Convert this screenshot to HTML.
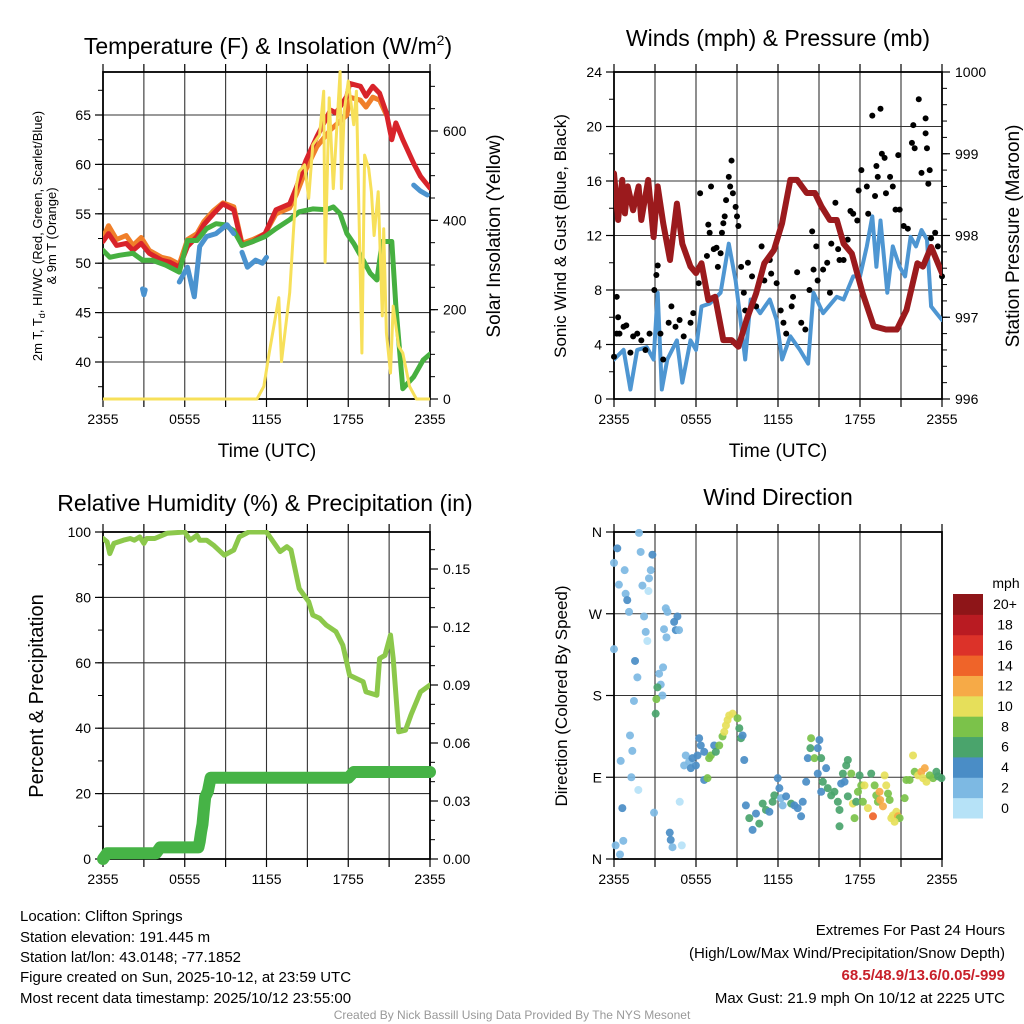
<!DOCTYPE html>
<html><head><meta charset="utf-8"><style>
body{margin:0;background:#fff;}
svg{display:block;font-family:"Liberation Sans",Arial,sans-serif;}
</style></head><body>
<svg id="fig" width="1024" height="1024" viewBox="0 0 1024 1024" xmlns="http://www.w3.org/2000/svg">
<rect width="1024" height="1024" fill="#fff"/>
<g id="layer"></g>
<!-- titles -->
<text x="268" y="54" font-size="23" text-anchor="middle">Temperature (F) &amp; Insolation (W/m<tspan font-size="14" dy="-9">2</tspan><tspan dy="9">)</tspan></text>
<text x="778" y="46" font-size="23" text-anchor="middle">Winds (mph) &amp; Pressure (mb)</text>
<text x="265" y="511" font-size="23" text-anchor="middle">Relative Humidity (%) &amp; Precipitation (in)</text>
<text x="778" y="505" font-size="23" text-anchor="middle">Wind Direction</text>
<!-- axis titles -->
<text x="267" y="457" font-size="19" text-anchor="middle">Time (UTC)</text>
<text x="778" y="457" font-size="19" text-anchor="middle">Time (UTC)</text>
<g transform="translate(42,236) rotate(-90)" font-size="13" text-anchor="middle">
<text x="0" y="0">2m T, T<tspan font-size="9" dy="3">d</tspan><tspan dy="-3">, HI/WC (Red, Green, Scarlet/Blue)</tspan></text>
<text x="0" y="14">&amp; 9m T (Orange)</text></g>
<text transform="translate(500,236) rotate(-90)" font-size="19" text-anchor="middle">Solar Insolation (Yellow)</text>
<text transform="translate(566,236) rotate(-90)" font-size="17" text-anchor="middle">Sonic Wind &amp; Gust (Blue, Black)</text>
<text transform="translate(1019,236) rotate(-90)" font-size="19" text-anchor="middle">Station Pressure (Maroon)</text>
<text transform="translate(43,696) rotate(-90)" font-size="20" text-anchor="middle">Percent &amp; Precipitation</text>
<text transform="translate(567,696) rotate(-90)" font-size="17" text-anchor="middle">Direction (Colored By Speed)</text>
<!-- footer -->
<g font-size="15">
<text x="20" y="921">Location: Clifton Springs</text>
<text x="20" y="942">Station elevation: 191.445 m</text>
<text x="20" y="962">Station lat/lon: 43.0148; -77.1852</text>
<text x="20" y="982">Figure created on Sun, 2025-10-12, at 23:59 UTC</text>
<text x="20" y="1003">Most recent data timestamp: 2025/10/12 23:55:00</text>
</g>
<g font-size="15" text-anchor="end">
<text x="1005" y="935">Extremes For Past 24 Hours</text>
<text x="1005" y="958">(High/Low/Max Wind/Precipitation/Snow Depth)</text>
<text x="1005" y="980" fill="#c8202a" font-weight="bold">68.5/48.9/13.6/0.05/-999</text>
<text x="1005" y="1003">Max Gust: 21.9 mph On 10/12 at 2225 UTC</text>
</g>
<text x="512" y="1019" font-size="12" fill="#999" text-anchor="middle">Created By Nick Bassill Using Data Provided By The NYS Mesonet</text>
</svg>
<script>
// ---------- DATA ----------
const timeTickLabels = ["2355","0555","1155","1755","2355"];
const tempTicks = [40,45,50,55,60,65];
const solarTicks = [0,200,400,600];
const windTicks = [0,4,8,12,16,20,24];
const pressTicks = [996,997,998,999,1000];
const rhTicks = [0,20,40,60,80,100];
const precipTicks = [0,0.03,0.06,0.09,0.12,0.15];
const precipTickLabels = ["0.00","0.03","0.06","0.09","0.12","0.15"];
const dirTickVals = [0,90,180,270,360];
const dirTickLabels = ["N","E","S","W","N"];
const speedLegendLabels = ["0","2","4","6","8","10","12","14","16","18","20+"];

const redHours = [0,0.4,1.0,1.7,2.2,2.8,3.4,4.3,4.9,5.6,6.2,6.9,7.4,8.1,8.8,9.6,10.2,11.0,11.9,12.7,13.7,14.2,14.9,15.7,16.7,17.1,17.9,18.1,18.9,19.3,19.8,20.3,20.8,21.2,21.5,22.0,22.8,23.3,24];
const redTemp = [52.2,53.0,51.8,52.0,51.3,52.0,51.0,50.3,50.1,49.6,51.7,52.7,53.9,55.0,56.0,55.4,51.8,52.2,53.0,55.4,56.0,57.7,60.4,62.8,65.5,65.2,66.9,68.2,67.9,66.9,67.9,67.2,65.2,62.5,64.2,62.5,60.1,58.8,57.6];
const orangeHours = [0,0.4,1.0,1.7,2.2,2.8,3.4,4.3,4.9,5.6,6.2,6.9,7.4,8.1,8.8,9.6,10.2,11.0,11.9,12.7,13.7,14.2,14.9,15.7,16.7,17.1,17.9,18.1,18.9,19.3,19.8,20.3,20.8];
const orangeTemp = [52.6,53.8,52.4,52.8,51.8,52.6,51.3,50.6,50.4,49.9,52.4,53.0,54.2,55.3,56.1,55.7,52.0,52.4,53.0,55.0,55.6,57.0,59.5,61.8,63.5,64.0,65.0,66.8,66.5,65.8,66.8,66.5,65.0];
const greenHours = [0,0.5,1.2,2.2,2.9,3.6,4.6,5.6,6.2,6.9,7.6,8.3,8.9,9.6,10.2,11.0,11.9,12.7,13.7,14.4,15.4,16.4,16.9,17.4,17.9,18.4,19.1,19.6,20.1,20.5,21.2,21.5,22.0,22.8,23.5,24];
const greenTemp = [51.3,50.6,50.8,51.0,50.3,50.3,49.8,49.1,52.3,52.3,53.5,54.0,53.9,53.3,51.8,52.2,52.7,53.5,54.4,55.2,55.5,55.4,55.7,55.0,53.0,52.0,50.3,49.0,48.3,52.2,52.2,45.6,37.3,38.5,40.2,40.8];
const blueSegHours = [[2.9,3.0,3.1],[5.6,6.2,6.7,7.1,7.6,8.3,9.1,9.6],[10.2,10.6,11.2,11.7,12.0],[22.8,23.3,23.8]];
const blueSegTemp = [[47.4,46.8,47.3],[48.1,49.6,46.6,51.7,52.7,53.0,53.9,53.0],[51.1,49.6,50.3,50.0,50.6],[57.9,57.3,56.9]];
const solarHours = [0,11.3,11.8,12.2,12.9,13.1,13.7,14.0,14.2,14.4,14.8,15.1,15.4,15.9,16.2,16.3,16.6,16.9,17.1,17.4,17.5,17.7,18.0,18.4,18.6,19.0,19.2,19.5,19.7,19.9,20.2,20.5,20.6,20.8,21.1,21.3,21.7,22.0,22.5,23.0,24];
const solarVals = [0,0,28,103,227,84,238,388,479,509,524,449,569,591,689,306,674,471,576,733,471,644,712,614,689,103,546,516,464,366,464,186,381,148,58,208,118,103,28,0,0];

const windHours = [0,0.7,1.2,1.7,2.4,2.9,3.2,3.5,3.9,4.6,5.0,5.6,6.0,6.4,7.0,7.8,8.4,8.9,9.2,9.6,10.0,10.7,11.4,11.9,12.3,12.9,13.6,14.2,14.6,15.3,16.3,16.8,17.5,18.0,18.5,18.9,19.2,19.5,20.0,20.4,20.9,21.3,21.7,22.1,22.5,22.9,23.2,23.6,24];
const windVals = [2.9,3.6,0.7,3.6,3.8,2.9,7.8,0.7,2.9,4.3,1.2,4.3,3.6,6.8,7.0,7.8,11.4,8.7,6.3,2.9,7.3,6.3,7.3,5.8,2.9,4.6,3.6,2.6,7.8,6.3,7.5,7.3,9.0,9.0,11.2,13.4,9.7,13.1,7.8,11.2,9.7,9.0,11.9,11.2,12.4,11.7,6.8,6.3,5.8];
const pressHours = [0,0.3,0.6,0.8,1.0,1.4,1.8,2.0,2.5,2.9,3.2,3.6,4.1,4.6,5.0,5.6,6.0,6.4,6.9,7.4,8.0,8.6,9.1,9.7,10.4,11.0,11.7,12.3,12.9,13.4,14.1,14.7,15.2,15.8,16.3,16.8,17.4,18.2,19.0,19.9,20.7,21.4,22.2,22.6,23.2,24];
const pressVals = [998.76,998.19,998.68,998.27,998.6,998.31,998.6,998.19,998.68,997.98,998.6,998.15,997.7,998.39,997.9,997.62,997.54,997.66,997.21,997.25,996.72,996.72,996.64,996.97,997.29,997.66,997.82,998.15,998.68,998.68,998.52,998.52,998.35,998.19,998.19,997.9,997.78,997.29,996.89,996.85,996.85,997.09,997.66,997.62,997.86,997.54];
const gustHours = [0,0.2,0.3,0.2,0.4,0.7,0.9,1.2,1.4,1.7,2.0,2.3,2.6,2.95,3.1,3.2,3.4,3.6,4.0,4.2,4.5,4.8,5.1,5.6,5.8,6.2,6.3,6.8,6.9,7.0,7.1,7.3,7.5,7.6,7.8,7.9,8.0,8.1,8.2,8.4,8.5,8.6,8.7,8.9,9.0,9.1,9.3,9.5,9.6,9.8,10.1,10.4,10.8,11.0,11.4,11.5,11.9,12.2,12.4,12.6,13.0,13.1,13.4,13.7,14.0,14.3,14.5,14.6,14.8,14.9,15.3,15.6,15.8,15.9,16.2,16.4,16.5,16.8,17.1,17.3,17.5,17.8,17.9,18.1,18.5,18.6,18.9,19.1,19.2,19.3,19.5,19.6,19.8,19.9,20.2,20.4,20.6,20.8,20.9,21.2,21.5,21.8,21.9,22.0,22.3,22.5,22.8,22.8,22.9,23.0,23.1,23.2,23.5,23.7,24.0];
const gustVals = [3.1,4.8,6.0,7.5,4.8,5.3,5.4,3.4,4.6,4.8,4.3,3.6,4.8,8.0,9.1,9.8,4.8,2.9,5.6,6.8,5.3,5.8,4.6,5.6,6.3,8.5,15.1,10.5,12.8,12.2,15.6,11.0,11.1,9.7,10.7,12.2,12.9,13.4,14.6,16.3,15.6,17.5,15.1,14.1,13.4,12.7,9.7,7.8,6.5,10.0,9.0,6.8,11.2,8.7,10.2,9.2,8.5,6.5,5.6,4.8,6.8,7.5,9.3,5.6,5.1,8.0,12.3,9.5,11.2,8.7,9.5,10.0,7.8,11.4,14.4,11.0,10.2,10.2,11.7,13.8,13.6,13.1,15.3,16.8,15.6,13.6,20.8,14.9,17.1,16.3,21.3,18.0,17.7,15.1,16.3,15.6,13.9,17.9,13.9,12.7,12.5,18.8,20.1,18.4,22.0,16.6,20.6,19.5,18.4,15.8,16.8,11.8,12.2,11.2,9.0];

const rhHours = [0,0.3,0.5,0.8,1.5,2.0,2.3,2.7,3.0,3.2,3.8,4.7,6.0,6.4,6.9,7.1,7.6,8.1,8.9,9.6,10.0,10.7,12.0,13.0,13.5,13.8,14.4,15.1,15.4,15.9,16.4,17.1,17.6,18.1,18.6,19.1,19.3,20.1,20.3,20.7,21.1,21.3,21.7,22.2,22.6,23.3,24];
const rhVals = [98.0,97.0,93.4,96.5,97.5,98.0,97.5,98.5,96.5,98.0,98.0,99.6,100,97.5,99.0,97.5,97.5,96.0,92.9,94.5,98.5,100,100,94.0,95.5,94.5,82.7,78.7,74.6,73.6,71.5,69.5,65.4,56.2,55.2,54.2,51.1,50.1,61.3,62.3,68.5,61.3,38.9,39.4,44.0,51.1,53.2];
const precipHours = [0,0.3,3.9,4.2,7.0,7.1,7.2,7.3,7.4,7.5,7.7,7.9,18.0,18.4,24];
const precipVals = [0,0.003,0.003,0.006,0.006,0.009,0.014,0.018,0.025,0.032,0.035,0.042,0.042,0.045,0.045];

const dirHours = [0.24,0,1.83,1.95,2.81,0.78,2.69,2.56,2.08,2.52,0.36,0.85,0.97,1.10,2.2,2.32,2.44,3.79,3.91,4.4,4.64,4.52,4.76,3.66,3.84,0,1.54,1.71,3.59,3.3,3.42,3.18,3.54,3.1,3.05,1.46,1.17,1.34,0.49,1.27,1.78,4.81,0.61,2.93,4.08,4.15,4.28,4.96,0.12,0.68,0.44,
5.25,5.5,5.13,5.74,5.62,5.99,6.23,6.35,6.11,6.6,6.6,6.84,6.96,7.09,7.33,7.45,7.7,7.94,8.07,8.19,8.31,8.43,8.68,9.04,9.17,9.29,9.41,9.53,
9.65,9.9,10.14,10.39,10.63,10.88,11.12,11.37,11.61,11.73,11.98,12.1,12.22,12.34,12.59,12.96,13.2,13.44,13.69,13.81,14.06,14.18,14.42,14.37,14.67,14.91,15.03,15.16,14.91,15.28,15.16,15.52,15.64,15.89,
16.13,16.38,16.5,16.62,16.75,16.99,17.11,16.87,17.11,17.36,17.48,17.72,17.85,17.97,18.09,18.21,18.33,18.58,18.82,18.95,19.07,19.19,19.31,19.43,19.48,19.68,19.8,19.92,20.05,20.17,20.29,20.41,20.66,20.78,20.9,20.53,21.27,21.39,21.63,21.88,22,22.25,22.49,22.61,22.74,22.86,23.1,23.35,23.59,23.71,23.96,16.5,17.6];
const dirDeg = [342,326,359,338,335,318,318,309,301,295,302,292,285,272,267,250,240,276,272,261,267,252,252,253,244,231,218,200,211,204,192,189,180,176,160,174,136,119,108,90,76,63,56,51,29,21,13,15,15,20,5,
114,107,103,111,100,103,133,125,114,118,87,89,111,114,125,118,125,135,140,147,153,158,160,155,144,133,136,109,
59,45,32,50,39,61,54,52,63,70,89,78,67,59,69,61,59,56,47,63,85,111,133,122,111,122,131,111,94,85,74,100,78,70,
74,63,54,83,94,103,109,85,69,94,61,63,74,92,81,63,81,56,94,47,81,70,63,74,65,58,92,81,72,65,45,48,52,47,45,41,67,87,87,114,96,92,96,89,100,85,92,89,96,91,89,36,45];
const dirSpeed = [4,2,2,2,4,2,2,2,2,0,2,2,4,2,2,2,0,2,2,4,4,4,2,2,2,2,4,2,2,2,2,6,2,8,6,2,2,2,2,2,0,0,4,2,4,4,2,0,2,2,2,
2,2,2,4,4,4,4,4,4,4,4,8,8,8,4,6,8,8,10,10,10,10,10,8,6,6,4,4,
4,6,4,4,6,6,6,4,6,6,4,4,2,2,4,6,4,4,4,4,4,4,8,6,8,4,4,6,4,6,4,4,6,6,
6,6,6,4,6,6,6,4,6,8,10,6,8,6,8,8,10,10,6,14,8,8,8,12,12,12,10,10,8,8,10,10,10,12,8,10,8,8,8,10,8,10,12,10,12,10,8,8,6,6,6,6,8];

const speedColors = ["#b6e2f7","#7db9e3","#4a8dc6","#4aa46c","#7bc24a","#e6df5a","#f6aa47","#ef6429","#dc3229","#b91b22","#8e1518"];

// ---------- DRAW ----------
const NS = "http://www.w3.org/2000/svg";
const layer = document.getElementById("layer");
function mk(tag, attrs, parent){
  const e = document.createElementNS(NS, tag);
  for (const k in attrs) e.setAttribute(k, attrs[k]);
  (parent||layer).appendChild(e);
  return e;
}
function lin(d0,d1,r0,r1){ return v => r0 + (v-d0)*(r1-r0)/(d1-d0); }

function panelFrame(name, L, T, R, B, yScale, yTicks, yLabels, yMinorStep, yMin, yMax){
  const g = mk("g",{});
  
  
  const xs = lin(0,24,L,R);
  // vertical grid every 3h
  for (let h=3; h<24; h+=3){
    const x = xs(h);
    const ln = mk("line",{x1:x,x2:x,y1:T,y2:B,stroke:"#333","stroke-width":1.1},g);
    
    
  }
  for (let h=0; h<=24; h+=3){
    const x = xs(h);
    mk("line",{x1:x,x2:x,y1:B,y2:B+8,stroke:"#000","stroke-width":1.2},g);
    mk("line",{x1:x,x2:x,y1:T,y2:T-8,stroke:"#000","stroke-width":1.2},g);
  }
  timeTickLabels.forEach((lab,i)=>{
    const t = mk("text",{x:xs(i*6),y:B+25,"font-size":14,"text-anchor":"middle"},g);
    t.textContent = lab;
    
    
  });
  // horizontal grid and ticks
  yTicks.forEach((v,i)=>{
    const y = yScale(v);
    if (y > T+1 && y < B-1){
      const ln = mk("line",{x1:L,x2:R,y1:y,y2:y,stroke:"#333","stroke-width":1.1},g);
      
      
    }
    mk("line",{x1:L-8,x2:L,y1:y,y2:y,stroke:"#000","stroke-width":1.2},g);
    if (yLabels){
      const t = mk("text",{x:L-12,y:y+5,"font-size":14,"text-anchor":"end"},g);
      t.textContent = yLabels[i];
      
      
    }
  });
  if (yMinorStep){
    for (let v=yMin; v<=yMax+1e-9; v+=yMinorStep){
      const y=yScale(v); if (y>=T && y<=B) mk("line",{x1:L-5,x2:L,y1:y,y2:y,stroke:"#000","stroke-width":1},g);
    }
  }
  const fr = mk("rect",{x:L,y:T,width:R-L,height:B-T,fill:"none",stroke:"#000","stroke-width":1.8},g);
  
  
  return xs;
}
function rightAxis(name, R, T, B, scale, ticks, labels, minorStep, mn, mx){
  const g = mk("g",{});
  
  
  ticks.forEach((v,i)=>{
    const y = scale(v);
    mk("line",{x1:R,x2:R+8,y1:y,y2:y,stroke:"#000","stroke-width":1.2},g);
    const t = mk("text",{x:R+13,y:y+5,"font-size":14},g);
    t.textContent = labels[i];
    
    
  });
  for (let v=mn; v<=mx+1e-9; v+=minorStep){
    const y=scale(v); if (y>=T-0.5 && y<=B+0.5) mk("line",{x1:R,x2:R+5,y1:y,y2:y,stroke:"#000","stroke-width":1},g);
  }
}
function path(xs, ys, hours, vals, color, width, name, clipId){
  const d = hours.map((h,i)=>(i?"L":"M")+xs(h).toFixed(1)+","+ys(vals[i]).toFixed(1)).join("");
  const p = mk("path",{d:d,fill:"none",stroke:color,"stroke-width":width,"stroke-linejoin":"round","stroke-linecap":"round"});
  if (clipId) p.setAttribute("clip-path","url(#"+clipId+")");
  
  
  return p;
}
const defs = mk("defs",{});
function clip(id,L,T,R,B){ const c=mk("clipPath",{id:id},defs); mk("rect",{x:L,y:T-2,width:R-L,height:B-T+4},c); }

// ----- Panel 1: temperature -----
const P1 = {L:103,T:72,R:430,B:399};
clip("c1",P1.L,P1.T,P1.R,P1.B);
const yT = lin(40,65,362,115);
const yS = lin(0,600,399,131);
const x1 = panelFrame("temperature", P1.L,P1.T,P1.R,P1.B, yT, tempTicks, tempTicks.map(String), 2.5, 37.5, 67.5);
rightAxis("solar-axis", P1.R, P1.T, P1.B, yS, solarTicks, solarTicks.map(String), 50, 0, 700);
path(x1,yT,orangeHours,orangeTemp,"#f07f2a",5,"orange-9m-temp-line","c1");
path(x1,yT,redHours,redTemp,"#d8232a",5,"red-2m-temp-line","c1");
path(x1,yT,greenHours,greenTemp,"#46b040",5,"green-dewpoint-line","c1");
blueSegHours.forEach((hs,i)=>path(x1,yT,hs,blueSegTemp[i],"#4b93cf",5,"blue-windchill-line","c1"));
path(x1,yS,solarHours,solarVals,"#f7e05a",3,"yellow-solar-line","c1");

// ----- Panel 2: winds -----
const P2 = {L:614,T:72,R:942,B:399};
clip("c2",P2.L,P2.T,P2.R,P2.B);
const yW = lin(0,24,399,72);
const yP = lin(996,1000,399,72);
const x2 = panelFrame("winds", P2.L,P2.T,P2.R,P2.B, yW, windTicks, windTicks.map(String), 2, 0, 24);
rightAxis("pressure-axis", P2.R, P2.T, P2.B, yP, pressTicks, pressTicks.map(String), 0.2, 996, 1000);
path(x2,yW,windHours,windVals,"#4e96d2",4,"sonic-wind-line","c2");
gustHours.forEach((h,i)=>{
  const c = mk("circle",{cx:x2(h),cy:yW(gustVals[i]),r:3,fill:"#000"});
  
  
});
path(x2,yP,pressHours,pressVals,"#9b1a1d",6,"pressure-line","c2");

// ----- Panel 3: RH -----
const P3 = {L:103,T:532,R:430,B:859};
clip("c3",P3.L,P3.T,P3.R,P3.B);
const yR = lin(0,100,859,532);
const yPr = lin(0,0.15,859,569);
const x3 = panelFrame("humidity", P3.L,P3.T,P3.R,P3.B, yR, rhTicks, rhTicks.map(String), 10, 0, 100);
rightAxis("precip-axis", P3.R, P3.T, P3.B, yPr, precipTicks, precipTickLabels, 0.01, 0, 0.16);
path(x3,yR,rhHours,rhVals,"#8cc84b",5,"rh-line","c3");
path(x3,yPr,precipHours,precipVals,"#46b346",12,"precip-line",null);

// ----- Panel 4: direction -----
const P4 = {L:614,T:532,R:942,B:859};
const yD = lin(0,360,859,532);
const x4 = panelFrame("direction", P4.L,P4.T,P4.R,P4.B, yD, dirTickVals, dirTickLabels, null);
dirHours.forEach((h,i)=>{
  const bin = Math.min(10, Math.max(0, Math.round(dirSpeed[i]/2)));
  const c = mk("circle",{cx:x4(h),cy:yD(dirDeg[i]),r:4,fill:speedColors[bin],"fill-opacity":0.92});
  
  
});
// colorbar
const cb = mk("g",{});


const cbT=594, cbB=818, cbH=(cbB-cbT)/11;
speedColors.forEach((col,i)=>{
  const y = cbB - (i+1)*cbH;
  const r = mk("rect",{x:953,y:y,width:30,height:cbH+0.5,fill:col},cb);
  
  
  const t = mk("text",{x:1005,y:y+cbH/2+5,"font-size":14,"text-anchor":"middle"},cb);
  t.textContent = speedLegendLabels[i];
  
  
});
const unit = mk("text",{x:1006,y:588,"font-size":14,"text-anchor":"middle"},cb);
unit.textContent = "mph";


</script>
</body></html>
